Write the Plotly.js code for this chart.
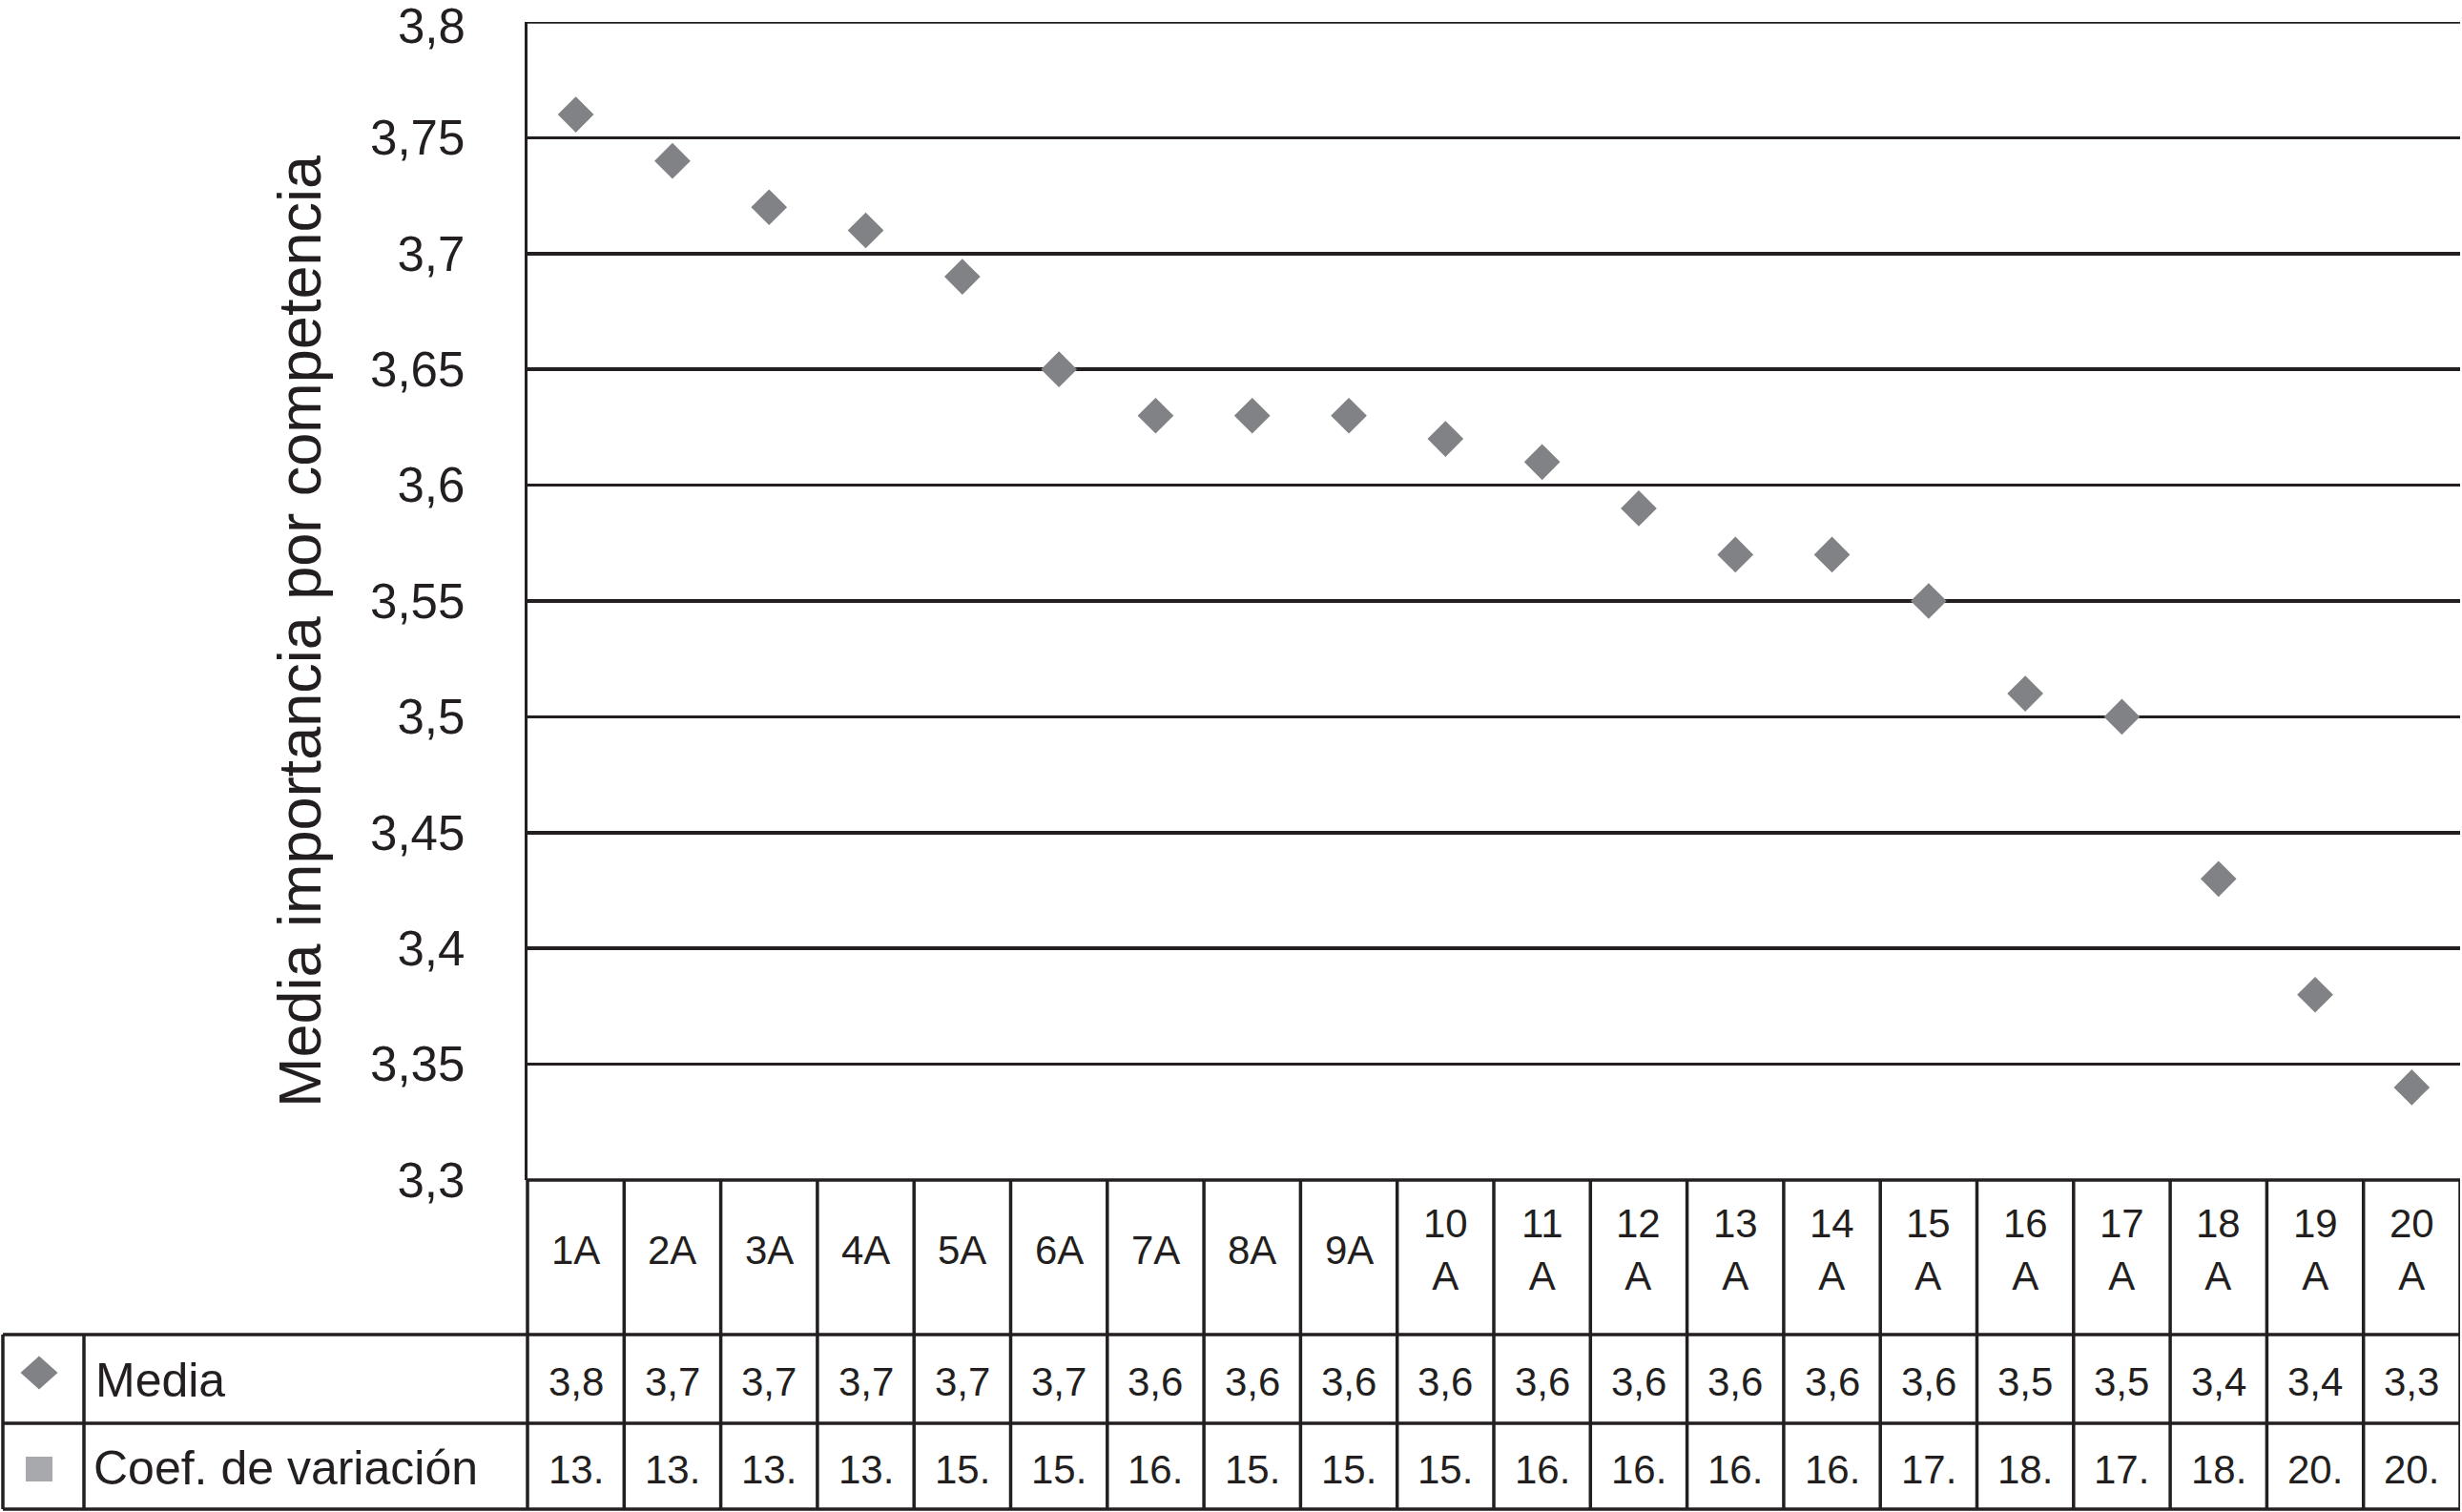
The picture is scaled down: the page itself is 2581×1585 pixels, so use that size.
<!DOCTYPE html>
<html><head><meta charset="utf-8">
<script src="https://cdn.plot.ly/plotly-3.0.1.min.js"></script>
<style>html,body{margin:0;padding:0;background:#fff;} #chart{width:2581px;height:1585px;}</style>
</head><body><div id="chart"></div>
<script>
// ---- data ----
const categories = ["1A","2A","3A","4A","5A","6A","7A","8A","9A","10A","11A","12A","13A","14A","15A","16A","17A","18A","19A","20A"];
const headerLabels = ["1A","2A","3A","4A","5A","6A","7A","8A","9A","10<br>A","11<br>A","12<br>A","13<br>A","14<br>A","15<br>A","16<br>A","17<br>A","18<br>A","19<br>A","20<br>A"];
const mediaValues = [3.76, 3.74, 3.72, 3.71, 3.69, 3.65, 3.63, 3.63, 3.63, 3.62, 3.61, 3.59, 3.57, 3.57, 3.55, 3.51, 3.50, 3.43, 3.38, 3.34];
const mediaText = ["3,8","3,7","3,7","3,7","3,7","3,7","3,6","3,6","3,6","3,6","3,6","3,6","3,6","3,6","3,6","3,5","3,5","3,4","3,4","3,3"];
const coefText = ["13.","13.","13.","13.","15.","15.","16.","15.","15.","15.","16.","16.","16.","16.","17.","18.","17.","18.","20.","20."];
const seriesNames = ["Media", "Coef. de variación"];
const yTickVals = [3.3, 3.35, 3.4, 3.45, 3.5, 3.55, 3.6, 3.65, 3.7, 3.75, 3.8];
const yTickText = ["3,3","3,35","3,4","3,45","3,5","3,55","3,6","3,65","3,7","3,75","3,8"];
const yTitle = "Media importancia por competencia";

// ---- geometry (pixels) ----
const W = 2581, H = 1585;
const L = 553, R = 2579, T = 23, B = 1237;
const rowHeadBottom = 1399, rowMediaBottom = 1492, tableBottom = 1582;
const tableLeft = 3, keyRight = 88;
const px = X => (X - L) / (R - L);
const py = Y => (B - Y) / (B - T);
const yMin = yTickVals[0], yMax = yTickVals[yTickVals.length - 1];

const ink = '#231f20';
const FONT = 'Liberation Sans, Arial, Helvetica, sans-serif';
const lw = 3.5;

const shapes = [];
function hline(x0, x1, Y) {
  shapes.push({type:'line', xref:'paper', yref:'paper', x0:px(x0), x1:px(x1), y0:py(Y), y1:py(Y), line:{color:ink, width:lw}});
}
function vlinePx(X, Y0, Y1) {
  shapes.push({type:'line', xref:'paper', yref:'paper', x0:px(X), x1:px(X), y0:py(Y0), y1:py(Y1), line:{color:ink, width:lw}});
}
function vlineCat(k, Y0, Y1) {
  shapes.push({type:'line', xref:'x', yref:'paper', x0:k - 0.5, x1:k - 0.5, y0:py(Y0), y1:py(Y1), line:{color:ink, width:lw}});
}
// top gridline at the upper end of the axis (edge gridline)
shapes.push({type:'line', xref:'paper', yref:'y', x0:0, x1:1, y0:yMax, y1:yMax, line:{color:ink, width:lw}});
hline(L, R, B);
hline(tableLeft, R, rowHeadBottom);
hline(tableLeft, R, rowMediaBottom);
hline(tableLeft, R, tableBottom);
vlinePx(L, B, tableBottom);
for (let k = 1; k <= categories.length; k++) vlineCat(k, B, tableBottom);
vlinePx(tableLeft, rowHeadBottom, tableBottom);
vlinePx(keyRight, rowHeadBottom, tableBottom);

// legend keys
const dcx = 41, dcy = 1439, hw = 19.5, hh = 17.5;
shapes.push({type:'path', xref:'paper', yref:'paper',
  path:`M ${px(dcx-hw)},${py(dcy)} L ${px(dcx)},${py(dcy-hh)} L ${px(dcx+hw)},${py(dcy)} L ${px(dcx)},${py(dcy+hh)} Z`,
  fillcolor:'#808285', line:{width:0}});
shapes.push({type:'rect', xref:'paper', yref:'paper', x0:px(27), x1:px(55), y0:py(1527), y1:py(1553),
  fillcolor:'#a7a9ac', line:{width:0}});

const annotations = [];
categories.forEach((c, i) => {
  annotations.push({xref:'x', yref:'paper', x:c, y:py(1310), text:headerLabels[i], showarrow:false,
    xanchor:'center', yanchor:'middle', font:{family:FONT, size:42, color:ink}});
  annotations.push({xref:'x', yref:'paper', x:c, y:py(1448), text:mediaText[i], showarrow:false,
    xanchor:'center', yanchor:'middle', font:{family:FONT, size:42, color:ink}});
  annotations.push({xref:'x', yref:'paper', x:c, y:py(1540), text:coefText[i], showarrow:false,
    xanchor:'center', yanchor:'middle', font:{family:FONT, size:42, color:ink}});
});
annotations.push({xref:'paper', yref:'paper', x:px(98), y:py(1447), text:seriesNames[0], showarrow:false,
  xanchor:'left', yanchor:'middle', font:{family:FONT, size:50, color:ink}});
annotations.push({xref:'paper', yref:'paper', x:px(96), y:py(1539), text:seriesNames[1], showarrow:false,
  xanchor:'left', yanchor:'middle', font:{family:FONT, size:50, color:ink}});
annotations.push({xref:'paper', yref:'paper', x:px(314), y:py(662), text:yTitle, showarrow:false, textangle:-90,
  xanchor:'center', yanchor:'middle', font:{family:FONT, size:63, color:ink}});
// label for the edge tick at the top of the axis
annotations.push({xref:'paper', yref:'paper', x:px(490), y:py(27), text:yTickText[yTickText.length - 1], showarrow:false,
  xanchor:'right', yanchor:'middle', font:{family:FONT, size:51, color:ink}});

const trace = {
  type:'scatter', mode:'markers', x:categories, y:mediaValues, name:seriesNames[0],
  marker:{symbol:'diamond', size:29, color:'#808285', line:{width:0}},
  cliponaxis:false, showlegend:false, hoverinfo:'skip'
};

const layout = {
  width:W, height:H,
  margin:{l:L, r:W - R, t:T, b:H - B, pad:0},
  paper_bgcolor:'#ffffff', plot_bgcolor:'#ffffff',
  showlegend:false,
  font:{family:FONT, color:ink},
  xaxis:{type:'category', range:[-0.5, categories.length - 0.5], showgrid:false, zeroline:false,
    showline:false, showticklabels:false, ticks:'', fixedrange:true},
  yaxis:{range:[yMin, yMax], tickmode:'array', tickvals:yTickVals.slice(0, -1), ticktext:yTickText.slice(0, -1),
    showgrid:true, gridcolor:ink, gridwidth:lw, zeroline:false,
    showline:true, linecolor:ink, linewidth:lw, ticks:'', ticklabelstandoff:52,
    tickfont:{family:FONT, size:51, color:ink}, fixedrange:true},
  shapes:shapes, annotations:annotations
};

Plotly.newPlot('chart', [trace], layout, {displayModeBar:false, staticPlot:true});
</script>
</body></html>
